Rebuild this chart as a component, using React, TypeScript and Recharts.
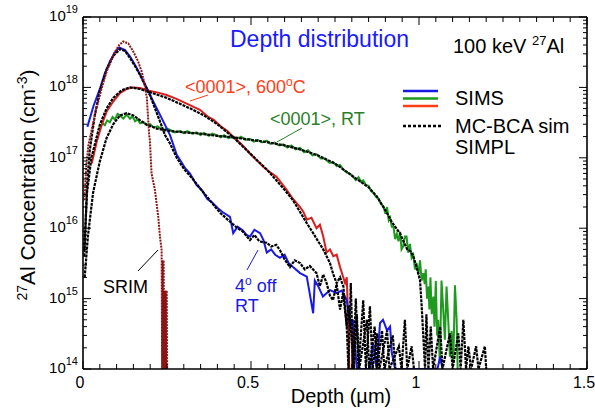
import { LineChart, Line, XAxis, YAxis } from 'recharts';

const FONT = "'Liberation Sans', Arial, sans-serif";

// axis ticks
const xMajorTicks = [0, 0.5, 1, 1.5];
const xTickLabels = ['0', '0.5', '1', '1.5'];
const yDecades = [14, 15, 16, 17, 18, 19];
const yMinorMantissas = [2, 3, 4, 5, 6, 7, 8, 9];

// [depth (µm), concentration (cm^-3)]
const blueSims = [
  [0.013, 2.75e17], [0.031, 5.4e17], [0.051, 9.8e17], [0.065, 1.58e18], [0.08, 2.34e18],
  [0.095, 3.16e18], [0.108, 3.7e18], [0.125, 3.4e18], [0.14, 2.75e18], [0.155, 2.09e18],
  [0.17, 1.51e18], [0.19, 9.8e17], [0.209, 6.3e17], [0.229, 4.1e17], [0.259, 2.1e17],
  [0.279, 1.1e17], [0.289, 9.3e16], [0.304, 7.1e16], [0.318, 6.0e16], [0.338, 4.1e16],
  [0.353, 3.5e16], [0.37, 2.6e16], [0.385, 2.3e16], [0.4, 1.95e16], [0.415, 1.7e16],
  [0.4375, 1.45e16], [0.447, 8.5e15], [0.46, 1.05e16], [0.476, 9.3e15], [0.487, 8.0e15],
  [0.497, 7.6e15], [0.51, 9.5e15], [0.527, 8.5e15], [0.537, 6.8e15], [0.547, 4.5e15],
  [0.56, 5.0e15], [0.572, 4.2e15], [0.586, 3.8e15], [0.6, 4.2e15], [0.612, 3.2e15],
  [0.625, 2.8e15], [0.646, 2.3e15], [0.666, 2.05e15], [0.685, 6.2e14], [0.69, 1.8e15],
  [0.7, 1.5e15], [0.714, 1.07e15], [0.735, 1.32e15], [0.755, 1.2e15], [0.77, 1.3e15],
  [0.785, 9.5e14], [0.795, 4.0e14], [0.804, 5.0e14], [0.815, 1e14], [0.855, 1e14],
  [0.863, 2.35e14], [0.874, 1e14], [0.884, 4.5e14], [0.893, 5.0e14], [0.905, 3.5e14],
  [0.914, 4.0e14], [0.919, 1.7e14], [0.929, 1e14], [1.055, 1e14], [1.063, 1.5e14], [1.07, 1e14],
];

const blueSim = [
  [0.004, 4.0e15], [0.012, 4.0e16], [0.02, 1.26e17], [0.035, 4.0e17], [0.05, 8.9e17],
  [0.07, 1.78e18], [0.09, 2.8e18], [0.11, 3.5e18], [0.125, 3.3e18], [0.14, 2.6e18],
  [0.155, 2.0e18], [0.17, 1.5e18], [0.2, 7.6e17], [0.229, 3.3e17], [0.244, 2.1e17],
  [0.259, 1.6e17], [0.279, 1.0e17], [0.3, 7.0e16], [0.327, 5.0e16], [0.35, 3.6e16],
  [0.372, 2.7e16], [0.39, 2.1e16], [0.408, 1.66e16], [0.425, 1.4e16], [0.445, 1.15e16],
  [0.46, 1.0e16], [0.475, 9.0e15], [0.497, 6.8e15], [0.51, 8.0e15], [0.525, 6.5e15],
  [0.547, 6.2e15], [0.56, 5.5e15], [0.575, 5.8e15], [0.586, 4.9e15], [0.6, 3.6e15],
  [0.616, 2.8e15], [0.63, 3.5e15], [0.646, 3.2e15], [0.66, 2.6e15], [0.675, 2.9e15],
  [0.695, 2.3e15], [0.705, 1.5e15], [0.715, 2.2e15], [0.725, 1.66e15], [0.735, 1.1e15],
  [0.744, 9.5e14], [0.755, 1.6e15], [0.765, 7e14], [0.774, 1.2e15], [0.785, 4.0e14],
  [0.79, 1e14], [0.797, 1.66e15], [0.804, 1e14], [0.812, 1.0e15], [0.82, 1e14],
  [0.834, 9.5e14], [0.842, 1e14], [0.854, 7.8e14], [0.862, 1e14], [0.875, 3.2e14],
  [0.882, 1e14], [0.905, 3.5e14], [0.912, 1e14], [0.94, 2.1e14], [0.948, 1e14],
  [0.958, 5.0e14], [0.965, 1e14], [0.978, 2.1e14], [0.985, 1e14],
];

const redSims = [
  [0.026, 8.3e16], [0.041, 1.7e17], [0.056, 2.95e17], [0.07, 4.5e17], [0.09, 6.3e17],
  [0.11, 8.3e17], [0.13, 9.5e17], [0.15, 1.0e18], [0.17, 9.8e17], [0.19, 9.1e17],
  [0.22, 8.5e17], [0.249, 7.8e17], [0.28, 6.8e17], [0.318, 5.6e17], [0.348, 4.8e17],
  [0.373, 3.8e17], [0.388, 3.5e17], [0.41, 2.8e17], [0.43, 2.4e17], [0.447, 2.0e17],
  [0.47, 1.58e17], [0.497, 1.15e17], [0.52, 8.9e16], [0.537, 7.4e16], [0.555, 6.3e16],
  [0.576, 5.4e16], [0.59, 4.4e16], [0.606, 3.5e16], [0.625, 2.6e16], [0.646, 2.0e16],
  [0.656, 1.7e16], [0.666, 1.32e16], [0.68, 1.41e16], [0.695, 1.0e16], [0.705, 1.12e16],
  [0.715, 7.6e15], [0.725, 4.5e15], [0.735, 5.0e15], [0.745, 4.0e15], [0.755, 4.2e15],
  [0.765, 2.8e15], [0.78, 1.66e15], [0.785, 2.0e15], [0.79, 4.0e14], [0.792, 1e14],
  [0.8, 1e14], [0.803, 5.0e14], [0.806, 1e14],
];

const redSim = [
  [0.004, 5.0e15], [0.012, 3.2e16], [0.025, 1.0e17], [0.05, 2.95e17], [0.07, 5.0e17],
  [0.09, 7.1e17], [0.115, 9.1e17], [0.14, 1.0e18], [0.17, 9.5e17], [0.2, 8.5e17],
  [0.249, 7.1e17], [0.29, 5.8e17], [0.32, 5.0e17], [0.36, 4.0e17], [0.4, 3.0e17],
  [0.45, 1.9e17], [0.5, 1.12e17], [0.55, 6.6e16], [0.6, 3.5e16], [0.625, 2.5e16],
  [0.646, 1.7e16], [0.665, 1.2e16], [0.685, 8.5e15], [0.7, 6.5e15], [0.715, 5.0e15],
  [0.725, 4.0e15], [0.735, 3.2e15], [0.745, 2.2e15], [0.755, 1.66e15], [0.765, 2.0e15],
  [0.775, 1.48e15], [0.785, 4.0e14], [0.79, 8e14], [0.8, 2.5e14], [0.806, 1e14],
  [0.815, 6e14], [0.822, 1e14], [0.845, 5e14], [0.852, 1e14], [0.868, 4e14],
  [0.875, 1e14], [0.89, 3.5e14], [0.897, 1e14], [0.922, 3e14], [0.93, 1e14],
];

const greenSims = [
  [0.05, 2.6e17], [0.058, 3.1e17], [0.065, 2.9e17], [0.072, 3.4e17], [0.08, 3.2e17],
  [0.088, 3.8e17], [0.095, 3.5e17], [0.103, 4.2e17], [0.11, 4.0e17], [0.12, 3.6e17],
  [0.13, 4.1e17], [0.14, 3.6e17], [0.147, 3.9e17], [0.155, 3.3e17], [0.163, 3.5e17],
  [0.17, 3.1e17], [0.18, 3.2e17], [0.19, 2.9e17], [0.2, 3.0e17], [0.21, 2.7e17],
  [0.222, 2.8e17], [0.239, 2.45e17], [0.25, 2.6e17], [0.26, 2.5e17], [0.272, 2.3e17],
  [0.289, 2.4e17], [0.3, 2.25e17], [0.31, 2.4e17], [0.325, 2.2e17], [0.338, 2.3e17],
  [0.35, 2.1e17], [0.36, 2.25e17], [0.375, 2.05e17], [0.385, 2.2e17], [0.398, 2.1e17],
  [0.41, 1.95e17], [0.42, 2.1e17], [0.433, 1.9e17], [0.447, 2.0e17], [0.458, 1.85e17],
  [0.47, 2.0e17], [0.483, 1.8e17], [0.497, 1.85e17], [0.508, 1.7e17], [0.52, 1.8e17],
  [0.533, 1.65e17], [0.547, 1.75e17], [0.558, 1.58e17], [0.57, 1.65e17], [0.583, 1.5e17],
  [0.596, 1.55e17], [0.608, 1.4e17], [0.62, 1.5e17], [0.633, 1.32e17], [0.646, 1.38e17],
  [0.658, 1.2e17], [0.67, 1.28e17], [0.683, 1.08e17], [0.695, 1.12e17], [0.708, 9.8e16],
  [0.72, 9.8e16], [0.733, 8.5e16], [0.745, 8.6e16], [0.755, 7.6e16], [0.765, 7.9e16],
  [0.775, 6.8e16], [0.785, 6.2e16], [0.795, 5.9e16], [0.804, 5.4e16], [0.812, 4.8e16],
  [0.82, 5.3e16], [0.827, 4.6e16], [0.834, 4.8e16], [0.842, 4.1e16], [0.85, 4.0e16],
  [0.857, 3.4e16], [0.864, 3.2e16], [0.872, 2.8e16], [0.88, 2.6e16], [0.887, 2.2e16],
  [0.894, 2.05e16], [0.9, 1.6e16], [0.905, 2.0e16], [0.91, 1.3e16], [0.914, 1.41e16],
  [0.919, 1.05e16], [0.924, 1.05e16], [0.929, 7.0e15], [0.934, 8.3e15], [0.939, 6.5e15],
  [0.944, 8.9e15], [0.948, 5.0e15], [0.953, 5.5e15], [0.958, 7.6e15], [0.963, 7.6e15],
  [0.968, 4.5e15], [0.973, 6.0e15], [0.978, 3.8e15], [0.983, 4.2e15], [0.988, 2.6e15],
  [0.993, 3.2e15], [0.998, 2.2e15], [1.003, 3.5e15], [1.008, 1.8e15], [1.013, 2.3e15],
  [1.017, 1.6e15], [1.02, 2.6e15], [1.024, 1.0e15], [1.028, 1.48e15], [1.031, 7e14],
  [1.034, 2.0e15], [1.038, 6e14], [1.043, 1.07e15], [1.046, 4e14], [1.05, 1.78e15],
  [1.054, 3e14], [1.057, 5.0e14], [1.062, 1.2e14], [1.067, 1.8e15], [1.072, 7.1e14],
  [1.077, 2.6e14], [1.082, 1.48e15], [1.087, 5.0e14], [1.092, 1.5e14], [1.097, 3.5e14],
  [1.102, 1.2e14], [1.107, 1.55e15], [1.112, 5.0e14], [1.115, 1e14],
];

const greenSim = [
  [0.005, 2.0e15], [0.015, 8e15], [0.03, 3.2e16], [0.05, 8.9e16], [0.07, 1.9e17],
  [0.09, 3.0e17], [0.11, 4.0e17], [0.13, 4.3e17], [0.15, 4.0e17], [0.17, 3.4e17],
  [0.19, 2.95e17], [0.22, 2.6e17], [0.26, 2.4e17], [0.3, 2.3e17], [0.35, 2.2e17],
  [0.4, 2.05e17], [0.45, 1.95e17], [0.5, 1.8e17], [0.55, 1.66e17], [0.6, 1.5e17],
  [0.65, 1.3e17], [0.7, 1.08e17], [0.75, 8.3e16], [0.8, 5.6e16], [0.85, 3.8e16],
  [0.875, 2.8e16], [0.9, 1.8e16], [0.92, 1.2e16], [0.943, 8.5e15], [0.955, 6.3e15],
  [0.965, 5.0e15], [0.975, 4.7e15], [0.983, 4.0e15], [0.993, 2.8e15], [1.003, 1.82e15],
  [1.008, 7.8e14], [1.018, 1e14], [1.022, 6e14], [1.028, 1e14], [1.035, 4e14],
  [1.042, 1e14], [1.063, 4e14], [1.07, 1e14], [1.092, 3.2e14], [1.1, 1e14],
  [1.117, 3.2e14], [1.124, 1e14], [1.132, 5.0e14], [1.14, 1e14], [1.147, 2.1e14],
  [1.155, 1e14], [1.17, 2.1e14], [1.177, 1e14], [1.196, 2.1e14], [1.2, 1e14],
];

const srim = [
  [0.004, 2.5e16], [0.01, 7.9e16], [0.016, 1.5e17], [0.028, 2.8e17], [0.04, 5.0e17],
  [0.055, 9.5e17], [0.07, 1.66e18], [0.085, 2.5e18], [0.095, 3.2e18], [0.108, 4.0e18],
  [0.12, 4.5e18], [0.135, 4.2e18], [0.15, 3.2e18], [0.163, 2.4e18], [0.175, 1.66e18],
  [0.183, 1.12e18], [0.19, 7.1e17], [0.197, 2.1e17], [0.199, 1.78e17], [0.204, 6.0e16],
  [0.214, 3.5e16], [0.224, 1.45e16], [0.229, 7.6e15], [0.234, 4.9e15], [0.2355, 1e14],
  [0.237, 3.5e15], [0.2385, 1e14], [0.24, 3.5e15], [0.2415, 1e14], [0.243, 1.3e15],
  [0.2445, 1e14], [0.246, 1.3e15], [0.2475, 1e14], [0.249, 1.3e15], [0.2505, 1e14],
];

const toPts = (arr: number[][]) => arr.map(([d, c]) => ({ d, c }));

const xTicks = Array.from({ length: 31 }, (_, i) => Math.round(i * 5) / 100);
const yTicks = yDecades.flatMap((e) =>
  e === 19 ? [10 ** e] : [10 ** e, ...yMinorMantissas.map((m) => m * 10 ** e)]
);

const isDecade = (v: number) => {
  const l = Math.log10(v);
  return Math.abs(l - Math.round(l)) < 1e-6;
};
const majorIdx = (v: number) => xMajorTicks.findIndex((m) => Math.abs(m - v) < 1e-6);

function BottomTick({ x, y, payload }: any) {
  const i = majorIdx(payload.value);
  return (
    <g>
      <line x1={x} x2={x} y1={y} y2={y - (i >= 0 ? 8 : 5)} stroke="#000" />
      {i >= 0 && (
        <text x={x - 3} y={y + 19} textAnchor="middle" fontSize={16} fontFamily={FONT} fill="#000">
          {xTickLabels[i]}
        </text>
      )}
    </g>
  );
}

function TopTick({ x, y, payload }: any) {
  const i = majorIdx(payload.value);
  return <line x1={x} x2={x} y1={y} y2={y + (i >= 0 ? 8 : 5)} stroke="#000" />;
}

function LeftTick({ x, y, payload }: any) {
  const major = isDecade(payload.value);
  const exp = Math.round(Math.log10(payload.value));
  return (
    <g>
      <line x1={x} x2={x + (major ? 8 : 4)} y1={y} y2={y} stroke="#000" />
      {major && (
        <text x={x - 5} y={y + 4} textAnchor="end" fontSize={15} fontFamily={FONT} fill="#000">
          <tspan>10</tspan>
          <tspan dy={-8} fontSize={11}>{exp}</tspan>
        </text>
      )}
    </g>
  );
}

function RightTick({ x, y, payload }: any) {
  const major = isDecade(payload.value);
  return <line x1={x} x2={x - (major ? 8 : 4)} y1={y} y2={y} stroke="#000" />;
}

const axisLine = { stroke: '#000', strokeWidth: 1.6 };

export default function App() {
  const simStyle = { stroke: '#000', strokeWidth: 2.2, strokeDasharray: '3 1' };
  return (
    <div style={{ position: 'absolute', left: 0, top: 0, width: 595, height: 414, background: '#fff' }}>
      <LineChart width={595} height={414} margin={{ top: 0, right: 0, bottom: 0, left: 0 }}>
        <XAxis xAxisId="b" type="number" dataKey="d" domain={[0, 1.5]} allowDataOverflow
          ticks={xTicks} interval={0} height={45} tickSize={0} tickMargin={0}
          tick={<BottomTick />} axisLine={axisLine} tickLine={false} />
        <XAxis xAxisId="t" orientation="top" type="number" dataKey="d" domain={[0, 1.5]} allowDataOverflow
          ticks={xTicks} interval={0} height={17} tickSize={0} tickMargin={0}
          tick={<TopTick />} axisLine={axisLine} tickLine={false} />
        <YAxis yAxisId="l" scale="log" type="number" domain={[1e14, 1e19]} allowDataOverflow
          ticks={yTicks} interval={0} width={83} tickSize={0} tickMargin={0}
          tick={<LeftTick />} axisLine={axisLine} tickLine={false} />
        <YAxis yAxisId="r" orientation="right" scale="log" type="number" domain={[1e14, 1e19]} allowDataOverflow
          ticks={yTicks} interval={0} width={8} tickSize={0} tickMargin={0}
          tick={<RightTick />} axisLine={axisLine} tickLine={false} />

        <Line xAxisId="b" yAxisId="l" data={toPts(greenSims)} dataKey="c" stroke="#1e9a1e" strokeWidth={2}
          dot={false} activeDot={false} isAnimationActive={false} />
        <Line xAxisId="b" yAxisId="l" data={toPts(redSims)} dataKey="c" stroke="#d81e1e" strokeWidth={2}
          dot={false} activeDot={false} isAnimationActive={false} />
        <Line xAxisId="b" yAxisId="l" data={toPts(blueSims)} dataKey="c" stroke="#1a1ae6" strokeWidth={2}
          dot={false} activeDot={false} isAnimationActive={false} />
        <Line xAxisId="b" yAxisId="l" data={toPts(greenSim)} dataKey="c" {...simStyle}
          dot={false} activeDot={false} isAnimationActive={false} />
        <Line xAxisId="b" yAxisId="l" data={toPts(redSim)} dataKey="c" {...simStyle}
          dot={false} activeDot={false} isAnimationActive={false} />
        <Line xAxisId="b" yAxisId="l" data={toPts(blueSim)} dataKey="c" {...simStyle}
          dot={false} activeDot={false} isAnimationActive={false} />
        <Line xAxisId="b" yAxisId="l" data={toPts(srim)} dataKey="c" stroke="#8b1414" strokeWidth={2}
          strokeDasharray="2 1" dot={false} activeDot={false} isAnimationActive={false} />
      </LineChart>

      <svg width={595} height={414} style={{ position: 'absolute', left: 0, top: 0, pointerEvents: 'none' }}
        fontFamily={FONT}>
        <text x={230} y={47} fontSize={23} fill="#1a1aff">Depth distribution</text>
        <text x={453} y={53} fontSize={20} fill="#000">
          <tspan>100 keV </tspan>
          <tspan dy={-8} fontSize={13}>27</tspan>
          <tspan dy={8}>Al</tspan>
        </text>

        <text x={185} y={93} fontSize={18} fill="#ff3d17">
          <tspan>{'<0001>, 600'}</tspan>
          <tspan dy={-7} fontSize={12}>o</tspan>
          <tspan dy={7}>C</tspan>
        </text>
        <line x1={190} y1={101} x2={208} y2={95} stroke="#ff3d17" />
        <text x={270} y={125} fontSize={18} fill="#2a7f2a">{'<0001>, RT'}</text>
        <line x1={277} y1={142} x2={302} y2={128} stroke="#2a7f2a" />

        <line x1={403} x2={438} y1={91} y2={91} stroke="#1a1ae6" strokeWidth={2.5} />
        <line x1={403} x2={438} y1={98.5} y2={98.5} stroke="#1e9a1e" strokeWidth={2.5} />
        <line x1={403} x2={438} y1={106} y2={106} stroke="#ff3d17" strokeWidth={2.5} />
        <line x1={403} x2={443} y1={126} y2={126} stroke="#000" strokeWidth={2.5} strokeDasharray="3 2" />
        <text x={455} y={105} fontSize={20} fill="#000">SIMS</text>
        <text x={455} y={133} fontSize={20} fill="#000">MC-BCA sim</text>
        <text x={455} y={154} fontSize={20} fill="#000">SIMPL</text>

        <text x={103} y={293} fontSize={18} fill="#000">SRIM</text>
        <line x1={138} y1={271} x2={158} y2={250} stroke="#000" />
        <text x={235} y={292} fontSize={18} fill="#1a1ae6">
          <tspan>4</tspan>
          <tspan dy={-7} fontSize={12}>o</tspan>
          <tspan dy={7}> off</tspan>
        </text>
        <text x={235} y={312} fontSize={18} fill="#1a1ae6">RT</text>
        <line x1={247} y1={270} x2={258} y2={250} stroke="#1a1ae6" />

        <text x={341} y={403} fontSize={20} textAnchor="middle" fill="#000">Depth (µm)</text>
        <text transform="translate(35,185) rotate(-90)" fontSize={21} textAnchor="middle" fill="#000">
          <tspan dy={-8} fontSize={14}>27</tspan>
          <tspan dy={8}>Al Concentration (cm</tspan>
          <tspan dy={-8} fontSize={14}>-3</tspan>
          <tspan dy={8}>)</tspan>
        </text>
      </svg>
    </div>
  );
}
